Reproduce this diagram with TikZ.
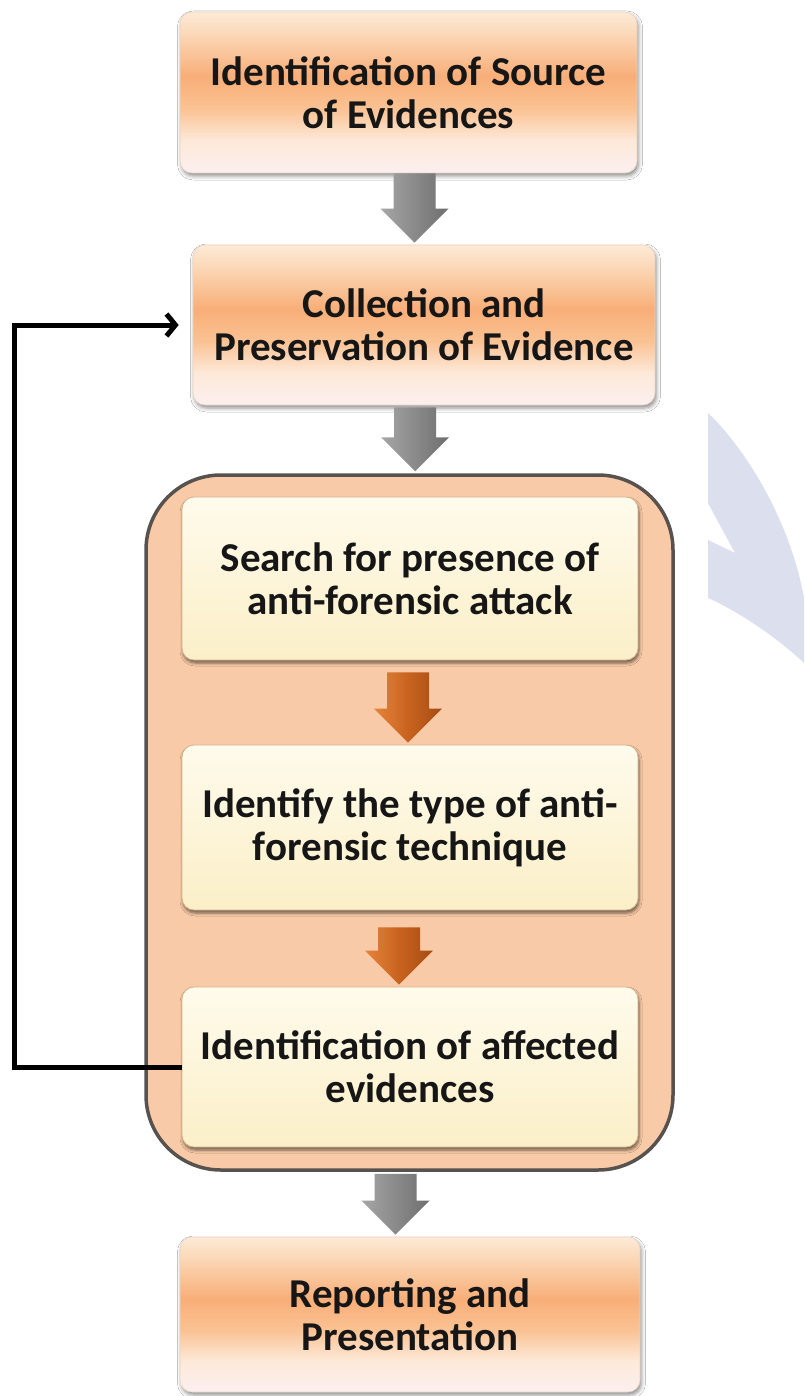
\documentclass[tikz,border=0pt]{standalone}
\usepackage{fontspec}
\setmainfont{Carlito}
\usetikzlibrary{calc,shadows.blur,arrows.meta}
\definecolor{ob1}{HTML}{FCEFF0}
\definecolor{ob2}{HTML}{FDE9D9}
\definecolor{ob3}{HTML}{FAC293}
\definecolor{ob4}{HTML}{F8AE78}
\definecolor{ob5}{HTML}{FBD6B4}
\definecolor{ob6}{HTML}{FCEAD8}
\definecolor{cb1}{HTML}{FBEFC8}
\definecolor{cb2}{HTML}{FFFBEC}
\definecolor{peach}{HTML}{F9CAA7}
\definecolor{grpborder}{HTML}{57524E}
\definecolor{wmcol}{HTML}{DCDFEE}
\definecolor{txt}{HTML}{161616}
\definecolor{obdraw}{HTML}{EBD3BE}
\definecolor{cbdraw}{HTML}{D2B48A}
\definecolor{ga}{HTML}{A6A6A6}
\definecolor{gb}{HTML}{8A8A8A}
\definecolor{gc}{HTML}{6E6E6E}
\definecolor{oa}{HTML}{E5843A}
\definecolor{obm}{HTML}{C8631F}
\definecolor{oc}{HTML}{A54C14}
\pgfdeclareverticalshading{orangebox}{100bp}{color(0bp)=(ob1); color(25bp)=(ob1); color(35bp)=(ob2); color(45bp)=(ob3); color(55bp)=(ob4); color(67.5bp)=(ob5); color(75bp)=(ob6); color(100bp)=(ob6)}
\pgfdeclareverticalshading{creambox}{100bp}{color(0bp)=(cb1); color(25bp)=(cb1); color(75bp)=(cb2); color(100bp)=(cb2)}
\newcommand\boxfont{\fontsize{41}{43}\selectfont\bfseries}
\newcommand\blockarrow[3]{\path[#1] let \p1=#2, \p2=#3 in
  (\x1-21pt,\y1) -- (\x1+21pt,\y1) -- (\x1+21pt,\y2+36pt) -- (\x1+34pt,\y2+36pt)
  -- (\x1,\y2+2pt) -- (\x1-34pt,\y2+36pt) -- (\x1-21pt,\y2+36pt) -- cycle;}
\tikzset{
  outerbox/.style={shade, shading=orangebox, rounded corners=12pt, draw=obdraw, line width=0.6pt,
    blur shadow={shadow xshift=1.5pt, shadow yshift=-3pt, shadow blur radius=4pt, shadow opacity=45},
    align=center, font=\boxfont, text=txt, inner sep=0pt},
  innerbox/.style={shade, shading=creambox, rounded corners=12pt, draw=cbdraw, line width=0.8pt,
    blur shadow={shadow xshift=1pt, shadow yshift=-3pt, shadow blur radius=3pt, shadow opacity=55},
    align=center, font=\boxfont, text=txt, inner sep=0pt},
  groupbox/.style={fill=peach, draw=grpborder, line width=3.5pt, rounded corners=75pt, inner sep=0pt},
  grayarrow/.style={left color=ga, right color=gc, middle color=gb},
  orangearrow/.style={left color=oa, right color=oc, middle color=obm},
  loopline/.style={line width=5pt, black, -{Straight Barb[length=9pt,width=22pt]}, shorten >=14pt},
  watermark/.style={fill=wmcol}
}
\begin{document}
\begin{tikzpicture}[x=1pt,y=-1pt]
\useasboundingbox (0,0) rectangle (804,1396);
\fill[white] (0,0) rectangle (804,1396);
% watermark fragment
\fill[watermark] (708,413) .. controls (745,448) and (790,520) .. (804,598) -- (804,663)
  .. controls (780,640) and (740,612) .. (708,598) -- (708,540) -- (735,553) -- (708,503) -- cycle;
% group container
\node[groupbox, minimum width=527pt, minimum height=695pt] (grp) at (409.5,822.5) {};
% outer boxes
\node[outerbox, minimum width=457pt, minimum height=161pt] (b1) at (408.5,92.5) {Identification of Source\\of Evidences};
\node[outerbox, minimum width=462pt, minimum height=160pt] (b2) at (424,325) {Collection and\\Preservation of Evidence};
\node[outerbox, minimum width=460pt, minimum height=155pt] (b5) at (410,1314.5) {Reporting and\\Presentation};
% inner boxes
\node[innerbox, minimum width=456pt, minimum height=163pt] (i1) at (410,578.5) {Search for presence of\\anti-forensic attack};
\node[innerbox, minimum width=456pt, minimum height=165pt] (i2) at (410,827.5) {Identify the type of anti-\\forensic technique};
\node[innerbox, minimum width=456pt, minimum height=160pt] (i3) at (410,1067) {Identification of affected\\evidences};
% block arrows
\blockarrow{grayarrow}{($(b1.south)+(6,0)$)}{(b2.north)}
\blockarrow{grayarrow}{($(b2.south)+(-9,2)$)}{(grp.north)}
\blockarrow{orangearrow}{($(i1.south)+(-2,12)$)}{(i2.north)}
\blockarrow{orangearrow}{($(i2.south)+(-11,17)$)}{(i3.north)}
\blockarrow{grayarrow}{($(grp.south)+(-14,2)$)}{(b5.north)}
% feedback loop
\draw[loopline] (i3.west) -- ++(-167,0) |- (b2.west);
\end{tikzpicture}
\end{document}
